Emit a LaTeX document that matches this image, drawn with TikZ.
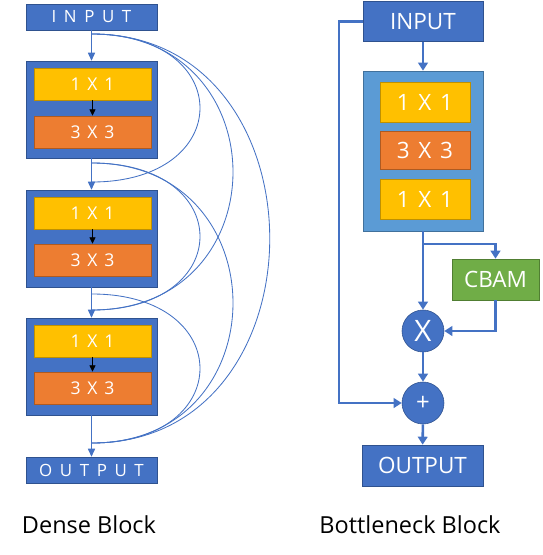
\documentclass[tikz,border=0pt]{standalone}
\usepackage{fontspec}
\setmainfont{Open Sans}
\usetikzlibrary{positioning, arrows.meta, calc}
\definecolor{boxblue}{HTML}{4472C4}
\definecolor{boxline}{HTML}{2F528F}
\definecolor{paleblue}{HTML}{5B9BD5}
\definecolor{paleline}{HTML}{41719C}
\definecolor{convyellow}{HTML}{FFC000}
\definecolor{yellowline}{HTML}{BF9000}
\definecolor{convorange}{HTML}{ED7D31}
\definecolor{orangeline}{HTML}{AE5A21}
\definecolor{cbamgreen}{HTML}{70AD47}
\definecolor{greenline}{HTML}{507E32}
\newcommand{\gap}{\hspace{0.45em}}
\newcommand{\wsp}{\hspace{0.39em}}
\tikzset{
    iobox/.style={draw=boxline, fill=boxblue, text=white, minimum width=3.275cm, minimum height=0.65cm, inner sep=0pt, font=\fontsize{12}{12}\selectfont},
    denseblk/.style={draw=boxline, fill=boxblue, minimum width=3.275cm, minimum height=2.425cm, inner sep=0pt},
    conv1/.style={draw=yellowline, fill=convyellow, text=white, minimum width=2.925cm, minimum height=0.8cm, inner sep=0pt, font=\fontsize{12.5}{12.5}\selectfont},
    conv3/.style={draw=orangeline, fill=convorange, text=white, minimum width=2.925cm, minimum height=0.8cm, inner sep=0pt, font=\fontsize{12.5}{12.5}\selectfont},
    bigbox/.style={draw=boxline, fill=boxblue, text=white, minimum width=3.0cm, minimum height=1.0cm, inner sep=0pt, font=\fontsize{16}{16}\selectfont},
    bconv1/.style={draw=yellowline, fill=convyellow, text=white, minimum width=2.25cm, minimum height=1.0cm, inner sep=0pt, font=\fontsize{16}{16}\selectfont},
    bconv3/.style={draw=orangeline, fill=convorange, text=white, minimum width=2.25cm, minimum height=0.95cm, inner sep=0pt, font=\fontsize{16}{16}\selectfont},
    opcirc/.style={draw=boxline, fill=boxblue, text=white, circle, minimum size=1.05cm, inner sep=0pt},
    larrow/.style={draw=boxblue, line width=0.6pt, -{Triangle[length=2mm, width=1.8mm]}},
    inarrow/.style={draw=black, line width=0.6pt, -{Triangle[length=1.6mm, width=1.5mm]}},
    dense/.style={draw=boxblue, line width=0.6pt},
    rarrow/.style={draw=boxblue, line width=1.8pt, -{Triangle[length=2mm, width=2.4mm]}},
    caption/.style={font=\fontsize{16.7}{16.7}\selectfont},
}
\begin{document}
\begin{tikzpicture}[x=0.025cm, y=-0.025cm]
    \useasboundingbox (0,0) rectangle (543,555);
    % dense block
    \node[iobox] (in) at (91.5,17) {I\gap N\gap P\gap U\gap T};
    \node[denseblk] (b1) at (91.5,109.5) {};
    \node[denseblk] (b2) at (91.5,238.5) {};
    \node[denseblk] (b3) at (91.5,366.5) {};
    \node[iobox] (out) at (91.5,470) {O\gap U\gap T\gap P\gap U\gap T};
    \node[conv1] (y1) at (92.5,84) {1\wsp X\wsp 1};
    \node[conv3] (o1) at (92.5,132) {3\wsp X\wsp 3};
    \node[conv1] (y2) at (92.5,213) {1\wsp X\wsp 1};
    \node[conv3] (o2) at (92.5,260) {3\wsp X\wsp 3};
    \node[conv1] (y3) at (92.5,341) {1\wsp X\wsp 1};
    \node[conv3] (o3) at (92.5,388) {3\wsp X\wsp 3};
    \draw[inarrow] (y1) -- (o1);
    \draw[inarrow] (y2) -- (o2);
    \draw[inarrow] (y3) -- (o3);
    \draw[larrow] (in) -- (b1);
    \draw[larrow] (b1) -- (b2);
    \draw[larrow] (b2) -- (b3);
    \draw[larrow] (b3) -- (out);
    \coordinate (s0) at (92,34);
    \coordinate (s1) at (92,163);
    \coordinate (s2) at (92,294);
    \coordinate (e2) at (92,182);
    \coordinate (e3) at (92,310);
    \coordinate (e4) at (92,443);
    \draw[dense] (s0) .. controls +(144,0) and +(144,0) .. (e2);
    \draw[dense] (s0) .. controls +(188,0) and +(188,0) .. (e3);
    \draw[dense] (s0) .. controls +(237,0) and +(237,0) .. (e4);
    \draw[dense] (s1) .. controls +(144,0) and +(144,0) .. (e3);
    \draw[dense] (s1) .. controls +(188,0) and +(188,0) .. (e4);
    \draw[dense] (s2) .. controls +(144,0) and +(144,0) .. (e4);
    % bottleneck block
    \node[bigbox] (rin) at (423,21.5) {INPUT};
    \node[draw=paleline, fill=paleblue, minimum width=3.0cm, minimum height=4.0cm] (box) at (423,151) {};
    \node[bconv1] (c1) at (425,102) {1\wsp X\wsp 1};
    \node[bconv3] (c3) at (425,150) {3\wsp X\wsp 3};
    \node[bconv1] (c5) at (425,199) {1\wsp X\wsp 1};
    \node[bigbox, draw=greenline, fill=cbamgreen, minimum width=2.175cm, minimum height=1.025cm] (cbam) at (495.5,279.5) {CBAM};
    \node[opcirc, font=\fontsize{21}{21}\selectfont] (mul) at (423,331) {X};
    \node[opcirc, font=\fontsize{17}{17}\selectfont] (add) at (423,403) {+};
    \node[bigbox, minimum width=3.025cm, minimum height=1.025cm] (rout) at (422.5,465.5) {OUTPUT};
    \coordinate (byp) at (339,403);
    \coordinate (br) at (423,244);
    \draw[rarrow] (rin) -- (box);
    \draw[rarrow] (rin.west) -| (byp) -- (add);
    \draw[rarrow] (box) -- (mul);
    \draw[rarrow] (br) -| (cbam);
    \draw[rarrow] (cbam) |- (mul);
    \draw[rarrow] (mul) -- (add);
    \draw[rarrow] (add) -- (rout);
    % captions
    \node[caption] (dcap) at (89,525) {Dense Block};
    \node[caption] (bcap) at (410,525) {Bottleneck Block};
\end{tikzpicture}
\end{document}
